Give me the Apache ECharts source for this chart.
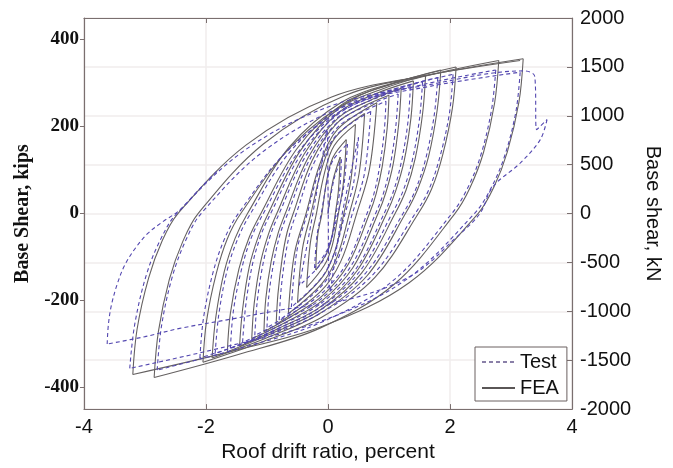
<!DOCTYPE html>
<html><head><meta charset="utf-8">
<script src="https://cdn.jsdelivr.net/npm/echarts@6/dist/echarts.min.js"></script>
<style>html,body{margin:0;padding:0;background:#fff}#c{width:673px;height:468px}</style>
</head><body><div id="c"></div>
<script>
// tick labels
const xTicks = [-4, -2, 0, 2, 4];
const kipsTicks = [-400, -200, 0, 200, 400];
const kNTicks = [-2000, -1500, -1000, -500, 0, 500, 1000, 1500, 2000];

// FEA hysteresis path [drift %, base shear kips]
const feaInner = [
[0,0],[0.08,75],[0.2,130],
[0.17,52],[0.12,0],[0.06,-56],[-0.02,-91],[-0.2,-130],
[-0.17,-52],[-0.1,0],[-0.02,77],[0.08,129],[0.3,170],
[0.25,68],[0.17,0],[0.07,-73],[-0.06,-119],[-0.35,-170],
[-0.29,-68],[-0.19,0],[-0.06,92],[0.1,156],[0.45,205],
[0.38,82],[0.26,0],[0.11,-88],[-0.08,-144],[-0.5,-205],
[-0.42,-82],[-0.28,0],[-0.1,104],[0.12,175],[0.6,230],
[0.51,92],[0.35,0],[0.15,-99],[-0.1,-161],[-0.65,-230],
[-0.55,-92],[-0.36,0],[-0.13,115],[0.16,194],[0.8,255],
[0.68,102],[0.47,0],[0.21,-110],[-0.12,-179],[-0.85,-255]
];
const feaMid = [
[-0.82,-184],[-0.75,-102],[-0.67,-43],[-0.57,0],[-0.26,122],[0.14,207],[0.56,245],[1.0,272],
[0.97,196],[0.89,109],[0.79,46],[0.68,0],[0.33,-117],[-0.1,-190],[-0.57,-234],[-1.05,-272],
[-1.02,-196],[-0.93,-109],[-0.82,-46],[-0.7,0],[-0.32,130],[0.16,219],[0.67,259],[1.2,288],
[1.16,207],[1.07,115],[0.95,49],[0.82,0],[0.41,-124],[-0.11,-202],[-0.67,-248],[-1.25,-288],
[-1.21,-207],[-1.11,-115],[-0.98,-49],[-0.84,0],[-0.39,137],[0.17,232],[0.77,275],[1.4,305],
[1.36,220],[1.25,122],[1.11,52],[0.96,0],[0.48,-131],[-0.12,-214],[-0.78,-262],[-1.45,-305],
[-1.4,-220],[-1.29,-122],[-1.14,-52],[-0.98,0],[-0.46,143],[0.18,242],[0.88,286],[1.6,318],
[1.55,229],[1.43,127],[1.28,54],[1.1,0],[0.55,-137],[-0.14,-223],[-0.88,-273],[-1.65,-318]
];
const feaOuter = [
[-1.6,-229],[-1.46,-127],[-1.29,-54],[-1.1,0],[-0.51,149],[0.23,251],[1.02,297],[1.85,330],
[1.79,238],[1.65,132],[1.47,56],[1.27,0],[0.64,-143],[-0.16,-232],[-1.01,-286],[-1.9,-332],
[-1.84,-239],[-1.7,-133],[-1.52,-56],[-1.32,0],[-0.64,152],[0.22,256],[1.14,303],[2.1,337],
[2.04,243],[1.88,135],[1.7,57],[1.48,0],[0.77,-147],[-0.11,-239],[-1.06,-294],[-2.05,-342],
[-1.99,-246],[-1.83,-137],[-1.65,-58],[-1.43,0],[-0.58,158],[0.47,268],[1.62,317],[2.8,352],
[2.73,253],[2.55,141],[2.33,60],[2.08,0],[1.09,-162],[-0.14,-264],[-1.47,-324],[-2.85,-377],
[-2.78,-271],[-2.6,-151],[-2.38,-64],[-2.13,0],[-1.06,160],[0.27,271],[1.71,320],[3.2,356],
[3.13,256],[2.94,142],[2.72,61],[2.46,0],[1.33,-159],[-0.09,-259],[-1.62,-318],[-3.2,-370],
[-3.13,-266],[-2.94,-148],[-2.72,-63],[-2.46,0],[-1.34,158],[0.06,268],[1.58,317],[3.15,352]
];

// Test hysteresis path [drift %, base shear kips]
const testInner = [
[0,0],[0.1,80],[0.22,125],
[0.19,50],[0.13,0],[0.06,-54],[-0.03,-88],[-0.22,-125],
[-0.18,-50],[-0.11,0],[-0.02,72],[0.08,122],[0.32,160],
[0.26,64],[0.16,0],[0.03,-71],[-0.12,-116],[-0.47,-165],
[-0.3,-40],[-0.1,120],[-0.02,195],[0,60],[0.03,-178],[0.22,-10],[0.5,175],
[0.42,70],[0.28,0],[0.1,-92],[-0.12,-150],[-0.6,-215],
[-0.51,-86],[-0.34,0],[-0.13,106],[0.13,179],[0.7,235],
[0.6,94],[0.4,0],[0.16,-105],[-0.14,-172],[-0.8,-245]
];
const testMid = [
[-0.77,-176],[-0.7,-98],[-0.62,-42],[-0.52,0],[-0.23,116],[0.14,196],[0.54,232],[0.95,258],
[0.92,186],[0.84,103],[0.75,44],[0.64,0],[0.31,-113],[-0.1,-183],[-0.54,-225],[-1.0,-262],
[-0.97,-189],[-0.88,-105],[-0.78,-45],[-0.66,0],[-0.3,124],[0.15,209],[0.64,248],[1.15,275],
[1.11,198],[1.02,110],[0.91,47],[0.78,0],[0.38,-120],[-0.11,-196],[-0.65,-241],[-1.2,-280],
[-1.16,-202],[-1.06,-112],[-0.94,-48],[-0.8,0],[-0.37,131],[0.17,222],[0.75,263],[1.35,292],
[1.31,210],[1.2,117],[1.07,50],[0.92,0],[0.46,-127],[-0.12,-207],[-0.75,-255],[-1.4,-296],
[-1.35,-213],[-1.24,-118],[-1.1,-50],[-0.94,0],[-0.44,136],[0.18,230],[0.85,273],[1.55,303],
[1.5,218],[1.38,121],[1.23,52],[1.05,0],[0.52,-133],[-0.14,-217],[-0.86,-267],[-1.6,-310]
];
const testOuter = [
[-1.55,-223],[-1.41,-124],[-1.25,-53],[-1.06,0],[-0.49,141],[0.23,238],[1.0,282],[1.8,313],
[1.74,225],[1.6,125],[1.43,53],[1.23,0],[0.61,-138],[-0.16,-225],[-0.99,-277],[-1.85,-322],
[-1.79,-232],[-1.65,-129],[-1.47,-55],[-1.27,0],[-0.61,144],[0.22,243],[1.12,288],[2.05,320],
[1.99,230],[1.83,128],[1.65,54],[1.43,0],[0.72,-143],[-0.16,-232],[-1.11,-286],[-2.1,-332],
[-2.04,-239],[-1.88,-133],[-1.69,-56],[-1.47,0],[-0.63,149],[0.43,251],[1.57,297],[2.75,330],
[2.68,238],[2.5,132],[2.28,56],[2.03,0],[1.06,-155],[-0.14,-252],[-1.45,-310],[-2.8,-360],
[-2.73,-259],[-2.55,-144],[-2.33,-61],[-2.08,0],[-1.03,146],[0.27,247],[1.69,293],[3.15,325],
[3.08,234],[2.89,130],[2.66,55],[2.4,0],[1.27,-153],[-0.14,-249],[-1.67,-306],[-3.25,-356],
[-3.17,-256],[-2.98,-142],[-2.75,-61],[-2.48,0],[-1.34,148],[0.08,249],[1.61,295],[3.2,328]
];
const testFailure = [
[3.39,315],[3.42,193],[3.59,216],[3.48,170],[3.15,116],[2.7,61],[2.49,0],[2.1,-55],[1.4,-140],
[0.4,-195],[-0.79,-222],[-1.6,-243],[-2.43,-264],[-3.0,-283],[-3.62,-300],[-3.6,-255],[-3.55,-210],
[-3.45,-160],[-3.33,-118],[-3.15,-78],[-2.95,-45],[-2.7,-18],[-2.43,8],[-2.15,50],[-1.8,100]
];

const feaData = feaInner.concat(feaMid, feaOuter);
const testData = testInner.concat(testMid, testOuter, testFailure);

// split a path into branches wherever the drift direction reverses (load peaks)
function branches(path) {
  const out = [];
  let cur = [path[0]];
  let dir = 0;
  for (let i = 1; i < path.length; i++) {
    const dx = path[i][0] - path[i - 1][0];
    const d = dx > 0 ? 1 : (dx < 0 ? -1 : dir);
    if (dir !== 0 && d !== dir) {
      out.push(cur);
      cur = [path[i - 1]];
    }
    dir = d;
    cur.push(path[i]);
  }
  out.push(cur);
  return out;
}

const SANS = '"Liberation Sans", Arial, sans-serif';
const SERIF = '"Liberation Serif", "Times New Roman", serif';
const AX = '#7a6f6f';
const GRID = '#f1eded';
const FEA_C = '#656161';
const TEST_C = '#5347b0';

const series = [];
branches(feaData).forEach(b => series.push({
  name: 'FEA', type: 'line', xAxisIndex: 0, yAxisIndex: 0, data: b,
  symbol: 'none', showSymbol: false, clip: true, smooth: 0.35,
  lineStyle: {color: FEA_C, width: 1.1}, itemStyle: {color: FEA_C}, z: 2
}));
branches(testData).forEach(b => series.push({
  name: 'Test', type: 'line', xAxisIndex: 0, yAxisIndex: 0, data: b,
  symbol: 'none', showSymbol: false, clip: true, smooth: 0.35,
  lineStyle: {color: TEST_C, width: 1.1, type: [4, 3]}, itemStyle: {color: TEST_C}, z: 3
}));

const chart = echarts.init(document.getElementById('c'), null, {renderer: 'canvas'});
chart.setOption({
  animation: false,
  backgroundColor: '#fff',
  grid: {left: 84, right: 101, top: 18, bottom: 58, containLabel: false},
  legend: {
    orient: 'vertical', left: 475, top: 347,
    data: [
      {name: 'Test', lineStyle: {color: '#8a80a8'}},
      {name: 'FEA', lineStyle: {color: '#5a5656'}}
    ],
    itemWidth: 33, itemHeight: 12, itemGap: 6,
    padding: [5, 8, 3, 6],
    itemStyle: {opacity: 0},
    borderColor: '#6a6060', borderWidth: 1, backgroundColor: '#fff',
    textStyle: {fontFamily: SANS, fontSize: 20, color: '#111'}
  },
  xAxis: [{
    type: 'value', min: -4, max: 4, interval: 2, position: 'bottom',
    name: 'Roof drift ratio, percent', nameLocation: 'middle', nameGap: 27,
    nameTextStyle: {fontFamily: SANS, fontSize: 21, color: '#111'},
    axisLine: {show: true, onZero: false, lineStyle: {color: AX, width: 1.2}},
    axisTick: {show: true, inside: true, length: 5, lineStyle: {color: AX}},
    axisLabel: {fontFamily: SANS, fontSize: 20, color: '#111', margin: 8,
      formatter: v => xTicks.indexOf(v) >= 0 ? String(v) : ''},
    splitLine: {show: true, lineStyle: {color: GRID, width: 1.5}}
  }, {
    type: 'value', min: -4, max: 4, interval: 2, position: 'top',
    axisLine: {show: true, onZero: false, lineStyle: {color: AX, width: 1.2}},
    axisTick: {show: true, inside: true, length: 5, lineStyle: {color: AX}},
    axisLabel: {show: false}, splitLine: {show: false}
  }],
  yAxis: [{
    type: 'value', min: -449.6, max: 449.6, position: 'left',
    name: 'Base Shear, kips', nameLocation: 'middle', nameGap: 45, nameRotate: 90,
    nameTextStyle: {fontFamily: SERIF, fontWeight: 'bold', fontSize: 20, color: '#111'},
    axisLine: {show: true, onZero: false, lineStyle: {color: AX, width: 1.2}},
    axisTick: {show: true, inside: false, length: 4, customValues: kipsTicks, lineStyle: {color: AX}},
    axisLabel: {customValues: kipsTicks, fontFamily: SERIF, fontWeight: 'bold', fontSize: 19, color: '#111', margin: 5},
    splitLine: {show: false}
  }, {
    type: 'value', min: -2000, max: 2000, interval: 500, position: 'right',
    name: 'Base shear, kN', nameLocation: 'middle', nameGap: 64, nameRotate: -90,
    nameTextStyle: {fontFamily: SANS, fontSize: 20, color: '#111'},
    axisLine: {show: true, onZero: false, lineStyle: {color: AX, width: 1.2}},
    axisTick: {show: true, inside: true, length: 5, lineStyle: {color: AX}},
    axisLabel: {fontFamily: SANS, fontSize: 20, color: '#111', margin: 8,
      formatter: v => kNTicks.indexOf(v) >= 0 ? String(v) : ''},
    splitLine: {show: true, lineStyle: {color: GRID, width: 1.5}}
  }],
  series: series
});
</script></body></html>
